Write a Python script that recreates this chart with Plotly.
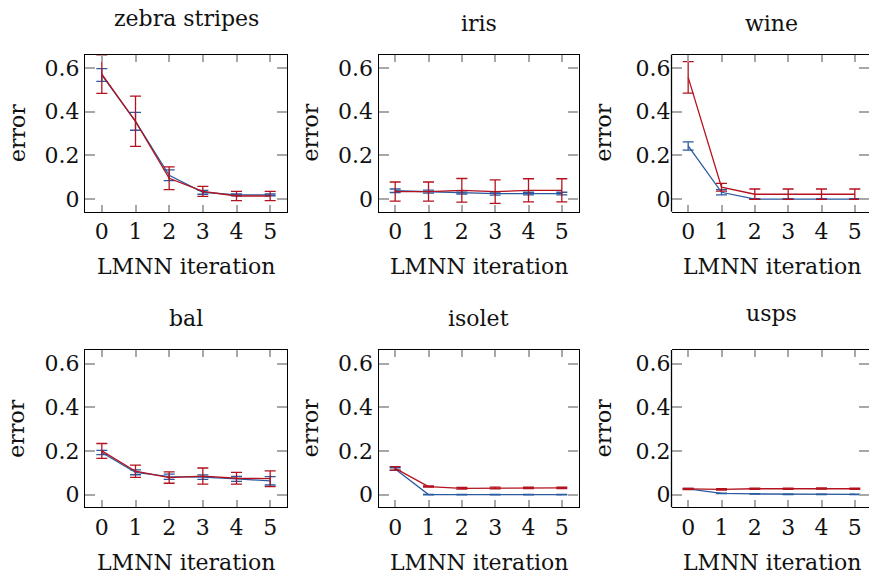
import plotly.graph_objects as go

# ---------------- data ----------------
titles = ["zebra stripes", "iris", "wine", "bal", "isolet", "usps"]
iterations = [0, 1, 2, 3, 4, 5]
x_tick_labels = ["0", "1", "2", "3", "4", "5"]
y_tick_vals = [0, 0.2, 0.4, 0.6]
y_tick_labels = ["0", "0.2", "0.4", "0.6"]

zebra_blue = [0.568, 0.356, 0.109, 0.031, 0.019, 0.019]
zebra_blue_err = [0.029, 0.041, 0.025, 0.009, 0.004, 0.004]
zebra_red = [0.572, 0.356, 0.095, 0.035, 0.014, 0.014]
zebra_red_err = [0.088, 0.115, 0.052, 0.023, 0.021, 0.021]

iris_blue = [0.038, 0.034, 0.030, 0.025, 0.025, 0.025]
iris_blue_err = [0.008, 0.007, 0.007, 0.007, 0.006, 0.006]
iris_red = [0.034, 0.034, 0.040, 0.034, 0.040, 0.040]
iris_red_err = [0.044, 0.044, 0.054, 0.054, 0.053, 0.053]

wine_blue = [0.243, 0.031, 0.0, 0.0, 0.0, 0.0]
wine_blue_err = [0.019, 0.012, 0.002, 0.002, 0.002, 0.002]
wine_red = [0.557, 0.054, 0.022, 0.022, 0.022, 0.022]
wine_red_err = [0.072, 0.018, 0.024, 0.024, 0.024, 0.024]

bal_blue = [0.193, 0.102, 0.082, 0.080, 0.072, 0.063]
bal_blue_err = [0.010, 0.011, 0.012, 0.010, 0.011, 0.019]
bal_red = [0.200, 0.107, 0.078, 0.085, 0.075, 0.073]
bal_red_err = [0.034, 0.028, 0.026, 0.037, 0.027, 0.036]

isolet_blue = [0.117, 0.0, 0.0, 0.0, 0.0, 0.0]
isolet_blue_err = [0.006, 0.001, 0.001, 0.001, 0.001, 0.001]
isolet_red = [0.120, 0.037, 0.029, 0.030, 0.031, 0.031]
isolet_red_err = [0.008, 0.003, 0.004, 0.004, 0.003, 0.003]

usps_blue = [0.026, 0.006, 0.003, 0.0015, 0.0015, 0.0015]
usps_blue_err = [0.002, 0.001, 0.001, 0.001, 0.001, 0.001]
usps_red = [0.026, 0.024, 0.027, 0.027, 0.028, 0.027]
usps_red_err = [0.003, 0.003, 0.003, 0.003, 0.003, 0.003]

blue_series = [zebra_blue, iris_blue, wine_blue, bal_blue, isolet_blue, usps_blue]
blue_errs = [zebra_blue_err, iris_blue_err, wine_blue_err, bal_blue_err, isolet_blue_err, usps_blue_err]
red_series = [zebra_red, iris_red, wine_red, bal_red, isolet_red, usps_red]
red_errs = [zebra_red_err, iris_red_err, wine_red_err, bal_red_err, isolet_red_err, usps_red_err]

# ---------------- layout ----------------
W, H = 869, 574
FONT = "DejaVu Serif"
FS = 22
TXT = "#111111"
BLUE = "#2a5a9f"
RED = "#b3121e"
TICKC = "#a8a8a8"

col_px = [(85.0, 287.0), (378.5, 578.5), (671.5, 869.0)]
row_px = [(54.5, 211.7), (350.0, 507.3)]
x_ranges = [[-0.5, 5.5], [-0.5, 5.5], [-0.5, 5.425]]
y_range = [-0.058, 0.662]
# titles with descenders sit a little higher (anchored on their bottom edge)
title_offsets = [35.5, 31.0, 31.0, 31.5, 31.5, 36.5]

fig = go.Figure()
layout = dict(
    width=W, height=H, margin=dict(l=0, r=0, t=0, b=0),
    paper_bgcolor="white", plot_bgcolor="white", showlegend=False,
    font=dict(family=FONT, size=FS, color=TXT),
)
annotations = []
shapes = []

for i in range(6):
    r, c = divmod(i, 3)
    n = "" if i == 0 else str(i + 1)
    xa, ya = "x" + n, "y" + n
    x0p, x1p = col_px[c]
    top, bot = row_px[r]
    xdom = [x0p / W, x1p / W]
    ydom = [(H - bot) / H, (H - top) / H]

    fig.add_trace(go.Scatter(
        x=iterations, y=blue_series[i], mode="lines", xaxis=xa, yaxis=ya,
        line=dict(color=BLUE, width=1.3), cliponaxis=True,
        error_y=dict(type="data", array=blue_errs[i], visible=True,
                     color=BLUE, thickness=1.3, width=5.5),
    ))
    fig.add_trace(go.Scatter(
        x=iterations, y=red_series[i], mode="lines", xaxis=xa, yaxis=ya,
        line=dict(color=RED, width=1.3), cliponaxis=True,
        error_y=dict(type="data", array=red_errs[i], visible=True,
                     color=RED, thickness=1.3, width=5.5),
    ))

    last_col = (c == 2)
    layout["xaxis" + n] = dict(
        domain=xdom, anchor=ya, range=x_ranges[c], showgrid=False, zeroline=False,
        tickvals=iterations, ticktext=x_tick_labels, ticks="inside", ticklen=7,
        tickwidth=1.5, tickcolor=TICKC, showline=True, linecolor="black",
        linewidth=1.3, mirror="ticks", tickfont=dict(family=FONT, size=FS, color=TXT),
        fixedrange=True,
    )
    layout["yaxis" + n] = dict(
        domain=ydom, anchor=xa, range=y_range, showgrid=False, zeroline=False,
        tickvals=y_tick_vals, ticktext=y_tick_labels, ticks="inside", ticklen=10,
        tickwidth=1.5, tickcolor=TICKC, showline=not last_col, linecolor="black",
        linewidth=1.3, mirror="ticks", tickfont=dict(family=FONT, size=FS, color=TXT),
        fixedrange=True,
    )
    if last_col:
        shapes.append(dict(type="line", xref="paper", yref="paper",
                           x0=xdom[0], x1=xdom[0], y0=ydom[0], y1=ydom[1],
                           line=dict(color="black", width=1.3)))

    full_center = (x0p + (x0p + 200.5 if last_col else x1p)) / 2
    annotations.append(dict(
        text=titles[i], xref="paper", yref="paper", x=full_center / W,
        y=(H - (top - title_offsets[i])) / H, xanchor="center", yanchor="middle",
        showarrow=False, font=dict(family=FONT, size=FS, color=TXT),
    ))
    annotations.append(dict(
        text="LMNN iteration", xref="paper", yref="paper", x=full_center / W,
        y=(H - (bot + 55)) / H, xanchor="center", yanchor="middle",
        showarrow=False, font=dict(family=FONT, size=FS, color=TXT),
    ))
    annotations.append(dict(
        text="error", xref="paper", yref="paper", x=(x0p - 68) / W,
        y=(H - (top + bot) / 2) / H, xanchor="center", yanchor="middle",
        textangle=-90, showarrow=False, font=dict(family=FONT, size=FS, color=TXT),
    ))

layout["annotations"] = annotations
layout["shapes"] = shapes
fig.update_layout(**layout)
fig.write_html("out.html", config={"displayModeBar": False},
               post_script="document.body.style.margin='0';document.body.style.overflow='hidden';")
